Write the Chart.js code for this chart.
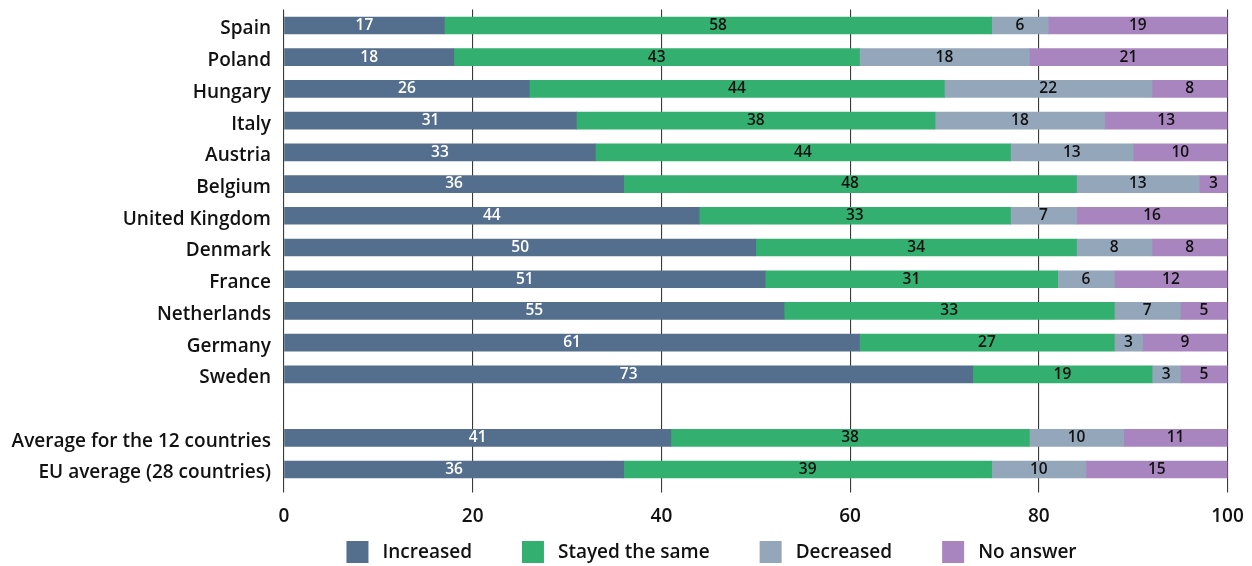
<!DOCTYPE html>
<html>
<head>
<meta charset="utf-8">
<script src="https://cdn.jsdelivr.net/npm/chart.js@4.4.1/dist/chart.umd.min.js"></script>
<style>
  html, body { margin: 0; padding: 0; background: #ffffff; }
  #wrap { width: 1252px; height: 566px; }
</style>
</head>
<body>
<div id="wrap"><canvas id="c" width="1252" height="566"></canvas></div>
<script>
// ---- data (bar lengths as drawn, printed labels as shown) ----
const categories = ["Spain", "Poland", "Hungary", "Italy", "Austria", "Belgium", "United Kingdom",
  "Denmark", "France", "Netherlands", "Germany", "Sweden", "", "Average for the 12 countries",
  "EU average (28 countries)"];
const seriesNames = ["Increased", "Stayed the same", "Decreased", "No answer"];
const increased = [17, 18, 26, 31, 33, 36, 44, 50, 51, 53, 61, 73, null, 41, 36];
const stayedSame = [58, 43, 44, 38, 44, 48, 33, 34, 31, 35, 27, 19, null, 38, 39];
const decreased = [6, 18, 22, 18, 13, 13, 7, 8, 6, 7, 3, 3, null, 10, 10];
const noAnswer = [19, 21, 8, 13, 10, 3, 16, 8, 12, 5, 9, 5, null, 11, 15];
const increasedLabels = [17, 18, 26, 31, 33, 36, 44, 50, 51, 55, 61, 73, null, 41, 36];
const stayedSameLabels = [58, 43, 44, 38, 44, 48, 33, 34, 31, 33, 27, 19, null, 38, 39];
const decreasedLabels = [6, 18, 22, 18, 13, 13, 7, 8, 6, 7, 3, 3, null, 10, 10];
const noAnswerLabels = [19, 21, 8, 13, 10, 3, 16, 8, 12, 5, 9, 5, null, 11, 15];
const xTicks = [0, 20, 40, 60, 80, 100];

const colors = ["#536f8d", "#33b06f", "#93a6ba", "#a985c0"];
const labelColors = ["#ffffff", "#111111", "#111111", "#111111"];
const FONT = "'Open Sans', 'Noto Sans', sans-serif";

const seriesValues = [increased, stayedSame, decreased, noAnswer];
const seriesLabels = [increasedLabels, stayedSameLabels, decreasedLabels, noAnswerLabels];

const datasets = seriesNames.map((name, i) => ({
  label: name,
  data: seriesValues[i],
  printed: seriesLabels[i],
  backgroundColor: colors[i],
  borderWidth: 0,
  barThickness: 17
}));

const valueLabelPlugin = {
  id: "valueLabels",
  afterDatasetsDraw(chart) {
    const ctx = chart.ctx;
    ctx.save();
    ctx.font = "600 15.5px " + FONT;
    ctx.textAlign = "center";
    ctx.textBaseline = "middle";
    chart.data.datasets.forEach((ds, di) => {
      const meta = chart.getDatasetMeta(di);
      meta.data.forEach((el, idx) => {
        const v = ds.printed[idx];
        if (v === null || v === undefined) return;
        const cx = (el.x + el.base) / 2;
        ctx.fillStyle = labelColors[di];
        ctx.fillText(String(v), cx, el.y);
      });
    });
    ctx.restore();
  }
};

const legendPlugin = {
  id: "customLegend",
  afterDraw(chart) {
    const ctx = chart.ctx;
    ctx.save();
    ctx.font = "600 19px " + FONT;
    ctx.textBaseline = "middle";
    const box = 22, gapText = 14, gapItem = 50;
    const items = chart.data.datasets.map(ds => ({ text: ds.label, color: ds.backgroundColor, w: ctx.measureText(ds.label).width }));
    let total = 0;
    items.forEach((it, i) => { total += box + gapText + it.w + (i < items.length - 1 ? gapItem : 0); });
    let x = 711.5 - total / 2;
    const cy = 552;
    items.forEach(it => {
      ctx.fillStyle = it.color;
      ctx.fillRect(x, cy - box / 2, box, box);
      ctx.fillStyle = "#111111";
      ctx.fillText(it.text, x + box + gapText, cy + 1);
      x += box + gapText + it.w + gapItem;
    });
    ctx.restore();
  }
};

new Chart(document.getElementById("c"), {
  type: "bar",
  data: { labels: categories, datasets },
  options: {
    indexAxis: "y",
    responsive: false,
    animation: false,
    devicePixelRatio: 1,
    layout: { padding: { top: 9.6, right: 24.5, bottom: 40.6, left: 0 } },
    plugins: { legend: { display: false }, tooltip: { enabled: false } },
    scales: {
      x: {
        stacked: true,
        min: 0,
        max: 100,
        afterBuildTicks(scale) { scale.ticks = xTicks.map(v => ({ value: v })); },
        afterFit(scale) { scale.height = 40; scale.paddingLeft = 0; scale.paddingRight = 0; },
        grid: { color: "#3a3a3a", lineWidth: 1.1, drawTicks: true, tickLength: 7 },
        border: { display: false },
        ticks: { font: { family: FONT, size: 19, weight: "600" }, color: "#111111", padding: 13 }
      },
      y: {
        stacked: true,
        afterFit(scale) { scale.width = 284; scale.paddingTop = 0; scale.paddingBottom = 0; },
        grid: { display: false, drawTicks: false },
        border: { display: false },
        ticks: { font: { family: FONT, size: 19, weight: "600" }, color: "#111111", padding: 13, labelOffset: 3.5 }
      }
    }
  },
  plugins: [valueLabelPlugin, legendPlugin]
});
</script>
</body>
</html>
